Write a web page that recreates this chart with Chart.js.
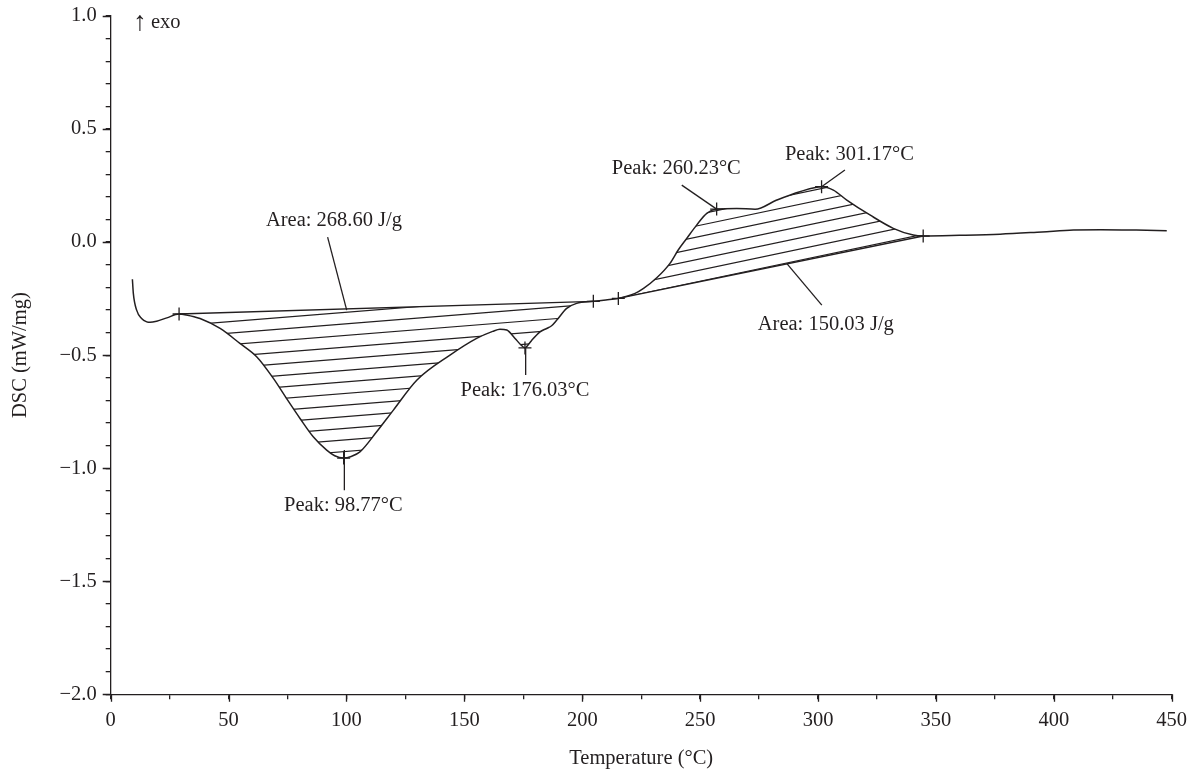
<!DOCTYPE html>
<html>
<head>
<meta charset="utf-8">
<script src="https://cdn.jsdelivr.net/npm/chart.js@4.4.1/dist/chart.umd.min.js"></script>
<style>
  html, body { margin: 0; padding: 0; background: #fff; }
  #wrap { width: 1193px; height: 771px; }
</style>
</head>
<body>
<div id="wrap"><canvas id="c" width="1193" height="771"></canvas></div>
<script>
// ---- data ----
const temperature = [9.2, 9.6, 11.0, 13.1, 15.3, 16.7, 19.5, 23.8, 29.0, 32.0, 37.9, 46.4, 54.8, 61.9, 69.0, 74.6, 80.3, 85.9, 91.6, 95.0, 98.8, 102.0, 105.7, 112.8, 119.9, 129.8, 143.9, 155.2, 162.0, 165.1, 168.0, 171.5, 174.0, 175.7, 177.0, 178.6, 182.1, 184.9, 187.0, 189.2, 193.4, 197.6, 204.7, 210.0, 215.3, 222.4, 226.0, 231.6, 237.2, 240.7, 244.3, 248.5, 252.8, 257.0, 265.5, 273.3, 282.5, 292.3, 301.5, 306.5, 312.2, 322.0, 331.9, 340.4, 344.6, 360.0, 377.2, 395.0, 408.3, 420.0, 435.0, 447.9];
const dsc = [-0.164, -0.227, -0.301, -0.338, -0.353, -0.355, -0.350, -0.335, -0.318, -0.322, -0.338, -0.382, -0.448, -0.507, -0.603, -0.692, -0.780, -0.861, -0.920, -0.945, -0.955, -0.948, -0.928, -0.839, -0.743, -0.611, -0.500, -0.426, -0.395, -0.385, -0.389, -0.426, -0.455, -0.468, -0.455, -0.434, -0.397, -0.382, -0.370, -0.345, -0.293, -0.271, -0.262, -0.256, -0.249, -0.227, -0.205, -0.158, -0.094, -0.035, 0.016, 0.075, 0.127, 0.146, 0.149, 0.145, 0.186, 0.223, 0.245, 0.230, 0.186, 0.120, 0.061, 0.031, 0.027, 0.030, 0.035, 0.045, 0.053, 0.055, 0.053, 0.050];

// integration baselines (start / end temperature, DSC)
const baseline1T = [29.0, 204.7];
const baseline1DSC = [-0.318, -0.262];
const baseline2T = [215.3, 344.6];
const baseline2DSC = [-0.249, 0.027];

// evaluation markers (+)
const markerT = [29.0, 98.8, 175.7, 204.7, 215.3, 257.0, 301.5, 344.6];
const markerDSC = [-0.318, -0.955, -0.468, -0.262, -0.249, 0.146, 0.245, 0.027];

// annotation texts
const noteTexts = ["Area: 268.60 J/g", "Peak: 98.77°C", "Peak: 176.03°C", "Peak: 260.23°C", "Peak: 301.17°C", "Area: 150.03 J/g"];
const noteT = [94.7, 98.7, 175.7, 239.9, 313.3, 303.3];
const noteDSC = [0.093, -1.164, -0.655, 0.327, 0.385, -0.367];

// leader lines from texts to the curve [startT, endT], [startDSC, endDSC]
const leaderT = [[92.0, 100.1], [99.1, 99.1], [176.0, 176.0], [242.2, 257.0], [311.4, 301.5], [286.7, 301.6]];
const leaderDSC = [[0.022, -0.301], [-0.920, -1.097], [-0.470, -0.588], [0.252, 0.146], [0.319, 0.245], [-0.094, -0.279]];

const xTicks = [0, 50, 100, 150, 200, 250, 300, 350, 400, 450];
const yTicks = [-2.0, -1.5, -1.0, -0.5, 0.0, 0.5, 1.0];

// ---- chart ----
const FONT = "'Liberation Serif', 'Times New Roman', serif";
const INK = '#231f20';

const toPts = (xs, ys) => xs.map((x, i) => ({ x: x, y: ys[i] }));

const datasets = [
  { data: toPts(temperature, dsc), showLine: true, borderColor: INK, borderWidth: 1.5,
    pointRadius: 0, cubicInterpolationMode: 'monotone', fill: false },
  { data: toPts(baseline1T, baseline1DSC), showLine: true, borderColor: INK, borderWidth: 1.3, pointRadius: 0 },
  { data: toPts(baseline2T, baseline2DSC), showLine: true, borderColor: INK, borderWidth: 1.3, pointRadius: 0 },
];
leaderT.forEach((lt, i) => {
  datasets.push({ data: toPts(lt, leaderDSC[i]), showLine: true, borderColor: INK, borderWidth: 1.3, pointRadius: 0 });
});
datasets.push({ data: toPts(markerT, markerDSC), showLine: false, pointStyle: 'cross',
  pointRadius: 6.5, borderColor: INK, borderWidth: 1.3, backgroundColor: INK });

const hatchAreas = [
  { from: baseline1T[0], to: baseline1T[1], slope: 0.08, gap: 11.6 },
  { from: baseline2T[0], to: baseline2T[1], slope: 0.21, gap: 11.2 },
];

const hatchPlugin = {
  id: 'hatch',
  afterDatasetsDraw(chart) {
    const pts = chart.getDatasetMeta(0).data;
    const ctx = chart.ctx;
    const { left, right } = chart.chartArea;
    hatchAreas.forEach(h => {
      const i0 = temperature.indexOf(h.from), i1 = temperature.indexOf(h.to);
      ctx.save();
      ctx.beginPath();
      ctx.moveTo(pts[i0].x, pts[i0].y);
      for (let i = i0 + 1; i <= i1; i++) {
        const p = pts[i - 1], q = pts[i];
        ctx.bezierCurveTo(p.cp2x, p.cp2y, q.cp1x, q.cp1y, q.x, q.y);
      }
      ctx.closePath();
      ctx.clip();
      const xa = pts[i0].x, ya = pts[i0].y;
      ctx.beginPath();
      for (let k = -80; k <= 80; k++) {
        const y0 = ya + k * h.gap;
        ctx.moveTo(left, y0 + h.slope * (xa - left));
        ctx.lineTo(right, y0 - h.slope * (right - xa));
      }
      ctx.strokeStyle = INK;
      ctx.lineWidth = 1.2;
      ctx.stroke();
      ctx.restore();
    });
  }
};

const textPlugin = {
  id: 'notes',
  afterDatasetsDraw(chart) {
    const ctx = chart.ctx;
    const xs = chart.scales.x, ys = chart.scales.y;
    ctx.save();
    ctx.fillStyle = INK;
    ctx.font = "20.5px " + FONT;
    ctx.textAlign = 'center';
    ctx.textBaseline = 'middle';
    noteTexts.forEach((t, i) => {
      ctx.fillText(t, xs.getPixelForValue(noteT[i]), ys.getPixelForValue(noteDSC[i]));
    });
    ctx.textAlign = 'left';
    ctx.textBaseline = 'alphabetic';
    const yb = ys.getPixelForValue(0.978) + 7;
    ctx.font = "27px " + FONT;
    ctx.fillText('↑', xs.getPixelForValue(9.6), yb + 2);
    ctx.font = "20.5px " + FONT;
    ctx.fillText('exo', xs.getPixelForValue(17.1), yb);
    ctx.restore();
  }
};

// longer tick marks at labelled (major) values
const majorTickPlugin = {
  id: 'majorTicks',
  afterDraw(chart) {
    const ctx = chart.ctx;
    const xs = chart.scales.x, ys = chart.scales.y;
    const { left, bottom } = chart.chartArea;
    ctx.save();
    ctx.strokeStyle = INK;
    ctx.lineWidth = 1.3;
    ctx.beginPath();
    yTicks.forEach(v => {
      const p = Math.round(ys.getPixelForValue(v)) + 0.5;
      ctx.moveTo(left - 8, p); ctx.lineTo(left, p);
    });
    xTicks.forEach(v => {
      const p = Math.round(xs.getPixelForValue(v)) + 0.5;
      ctx.moveTo(p, bottom); ctx.lineTo(p, bottom + 7.5);
    });
    ctx.stroke();
    ctx.restore();
  }
};

const fmt = v => (v < 0 ? '\u2212' : '') + Math.abs(v).toFixed(1);

new Chart(document.getElementById('c'), {
  type: 'scatter',
  data: { datasets },
  plugins: [hatchPlugin, textPlugin, majorTickPlugin],
  options: {
    responsive: false,
    devicePixelRatio: 1,
    animation: false,
    layout: { padding: { left: 0, top: 16, right: 21.3, bottom: 0 } },
    plugins: { legend: { display: false }, tooltip: { enabled: false } },
    scales: {
      x: {
        type: 'linear', min: 0, max: 450,
        afterFit: s => { s.height = 76.7; s.paddingLeft = 0; s.paddingRight = 0; },
        border: { display: true, color: INK, width: 1.3 },
        grid: { display: true, drawOnChartArea: false, drawTicks: true, tickLength: 5, color: INK, lineWidth: 1.3 },
        ticks: {
          stepSize: 25, autoSkip: false, maxRotation: 0, padding: 9, color: INK,
          font: { family: FONT, size: 20.5 },
          callback: v => xTicks.includes(v) ? String(v) : ''
        },
        title: { display: true, text: 'Temperature (°C)', color: INK, font: { family: FONT, size: 20.5 }, padding: { top: 0, bottom: 0 } }
      },
      y: {
        type: 'linear', min: -2, max: 1,
        afterFit: s => { s.width = 110.7; s.paddingTop = 0; s.paddingBottom = 0; },
        border: { display: true, color: INK, width: 1.3 },
        grid: { display: true, drawOnChartArea: false, drawTicks: true, tickLength: 5, color: INK, lineWidth: 1.3 },
        ticks: {
          stepSize: 0.1, autoSkip: false, padding: 9, color: INK,
          font: { family: FONT, size: 20.5 },
          callback: v => {
            const r = Math.round(v * 10) / 10;
            return yTicks.some(t => Math.abs(t - r) < 1e-6) ? fmt(r) : '';
          }
        },
        title: { display: true, text: 'DSC (mW/mg)', color: INK, font: { family: FONT, size: 20.5 }, padding: { top: 8, bottom: 0 } }
      }
    }
  }
});
</script>
</body>
</html>
